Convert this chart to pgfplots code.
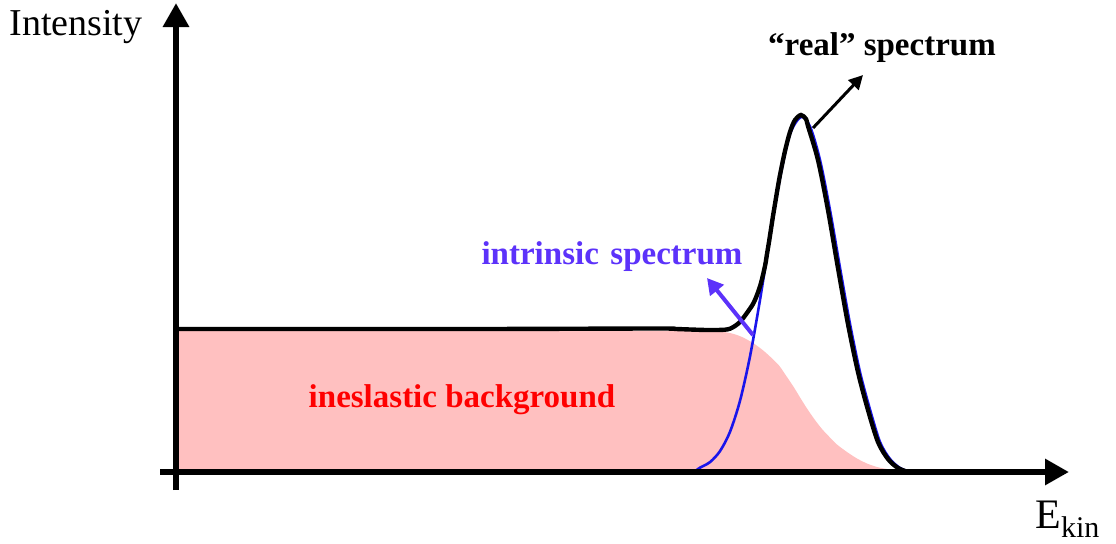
\documentclass[border=0pt]{standalone}
\usepackage{pgfplots}
\pgfplotsset{compat=1.18}
\usepackage{fontspec}
\setmainfont{Liberation Serif}
\usetikzlibrary{arrows.meta}

\definecolor{bgpink}{RGB}{255,192,192}
\definecolor{bgred}{RGB}{255,0,0}
\definecolor{intrcurve}{RGB}{25,20,235}
\definecolor{intrtext}{RGB}{92,50,250}

\begin{document}
\begin{tikzpicture}
\begin{axis}[
  x=0.5pt, y=0.5pt,
  xmin=-176, xmax=940, ymin=-71, ymax=472,
  hide axis, clip=false,
]
% frame of the picture
\path (axis cs:-176,-71) rectangle (axis cs:940,472);

% inelastic background
\addplot[draw=none, fill=bgpink, smooth, tension=0.5] coordinates {
  (0,141) (300,141) (530,141) (544,140.5) (556,138.5) (566,135) (577,129)
  (586,122.5) (594,115.5) (603,106.5) (611,95) (618,84.5) (625,73)
  (632,62) (639,52) (646,43) (653,35.5) (661,27.5) (671,20) (681,13.5)
  (691,8.5) (701,5) (711,3) (724,1.2) (740,0)
} \closedcycle;

% intrinsic spectrum
\addplot[intrcurve, line width=1.3pt, smooth, tension=0.5] coordinates {
  (518,0) (524,4.3) (534,9.9) (544,20.9) (554,40.2) (564,71.2) (574,115.6)
  (584,172.1) (594,234.9) (604,294.2) (614,337.9) (625,355) (634,345.6)
  (644,312) (654,261.9) (664,204.2) (674,148.1) (684,99.9) (694,62.5)
  (704,30) (714,13) (724,4) (734,0)
};

% "real" spectrum
\addplot[black, line width=2.2pt, smooth, tension=0.5] coordinates {
  (0,143) (300,143) (480,143.5) (500,143) (514,142.5) (530,142) (541,142)
  (549,142.3) (554,143.3) (559,146) (564,150) (568,155) (572,160.5)
  (577,168) (581,177) (585,189) (589,206) (591,218) (593,230) (595,243)
  (597,256) (599,268) (601,280) (604,297) (609,321) (614,340) (619,352)
  (625,357) (630,353) (632,346) (642,312) (652,262) (662,204) (672,148)
  (682,100) (692,62) (702,30) (712,13) (722,4) (732,0)
};

% axes
\draw[line width=3pt, -{Triangle[width=12.5pt,length=12pt]}]
  (axis cs:-16,0) -- (axis cs:893,0);
\draw[line width=3pt, -{Triangle[width=12.5pt,length=12pt]}]
  (axis cs:0,-18) -- (axis cs:0,469);

% pointers
\draw[black, line width=1.5pt, -{Triangle[width=7pt,length=7pt]}]
  (axis cs:637,344) -- (axis cs:687,397);
\draw[intrtext, line width=2pt, -{Triangle[width=8.5pt,length=8pt]}]
  (axis cs:577,137) -- (axis cs:531,194);

% labels
\node[anchor=base, font=\fontsize{19}{22}\selectfont] at (axis cs:-100,437) {Intensity};
\node[anchor=base west, inner sep=0pt] at (axis cs:859,-56)
  {\fontsize{21}{24}\selectfont E\raisebox{-4.5pt}{\fontsize{15}{17}\selectfont kin}};
\node[anchor=base, font=\fontsize{16.5}{19}\selectfont\bfseries] at (axis cs:706,417)
  {“real” spectrum};
\node[anchor=base, text=intrtext, font=\fontsize{16.5}{19}\selectfont\bfseries] at (axis cs:436,208)
  {intrinsic\hspace{0.35em}spectrum};
\node[anchor=base, text=bgred, font=\fontsize{16.5}{19}\selectfont\bfseries] at (axis cs:286,65)
  {ineslastic background};
\end{axis}
\end{tikzpicture}
\end{document}
